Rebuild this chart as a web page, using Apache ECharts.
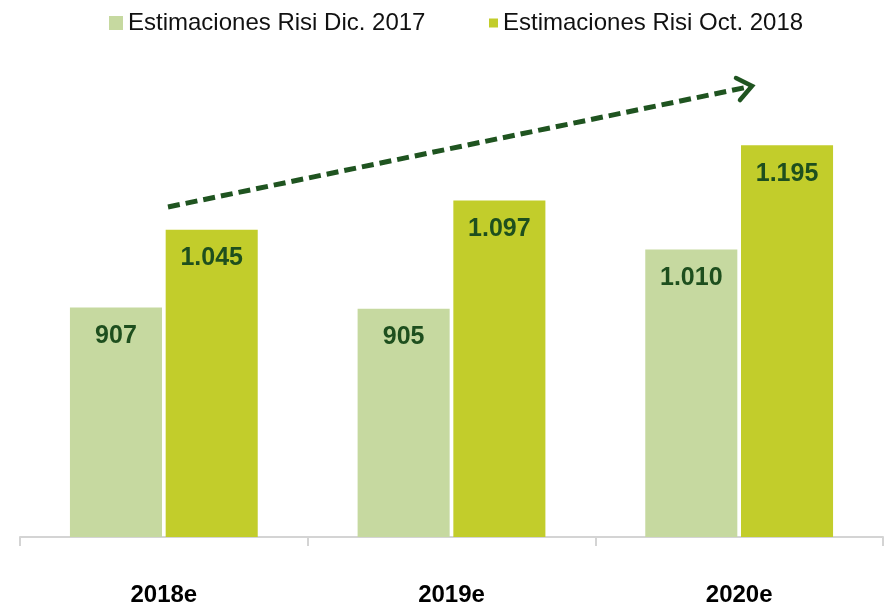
<!DOCTYPE html>
<html>
<head>
<meta charset="utf-8">
<script src="https://cdn.jsdelivr.net/npm/echarts@6/dist/echarts.min.js"></script>
<style>
  html, body { margin: 0; padding: 0; background: #fff; }
  #chart { width: 885px; height: 610px; }
</style>
</head>
<body>
<div id="chart"></div>
<script>
// datos del gráfico
const categorias = ['2018e', '2019e', '2020e'];
const nombreDic2017 = 'Estimaciones Risi Dic. 2017';
const nombreOct2018 = 'Estimaciones Risi Oct. 2018';
const valoresDic2017 = [907, 905, 1010];
const valoresOct2018 = [1045, 1097, 1195];

const FONT = '"Liberation Sans Narrow", "Arial Narrow", "Liberation Sans", Arial, sans-serif';

// formato español: 1.045
function fmt (v) {
    return String(v).replace(/\B(?=(\d{3})+(?!\d))/g, '.');
}

const etiqueta = {
    show: true,
    position: 'insideTop',
    distance: 16,
    color: '#1e4f1e',
    fontFamily: FONT,
    fontWeight: 'bold',
    fontSize: 25,
    formatter: (p) => fmt(p.value)
};

const chart = echarts.init(document.getElementById('chart'));

chart.setOption({
    animation: false,
    legend: [
        {
            data: [nombreDic2017],
            left: 104,
            top: 6,
            itemWidth: 14,
            itemHeight: 14,
            itemGap: 10,
            icon: 'rect',
            textStyle: { fontFamily: FONT, fontSize: 24, color: '#111' }
        },
        {
            data: [nombreOct2018],
            left: 484,
            top: 6,
            itemWidth: 9,
            itemHeight: 9,
            itemGap: 10,
            icon: 'rect',
            textStyle: { fontFamily: FONT, fontSize: 24, color: '#111' }
        }
    ],
    grid: { left: 20, right: 2, top: 86, bottom: 73 },
    xAxis: {
        type: 'category',
        data: categorias,
        axisLine: { lineStyle: { color: '#d4d4d4', width: 2 } },
        axisTick: { show: true, length: 9, lineStyle: { color: '#d4d4d4', width: 2 } },
        axisLabel: {
            margin: 46,
            color: '#000',
            fontFamily: FONT,
            fontWeight: 'bold',
            fontSize: 24
        }
    },
    yAxis: {
        type: 'value',
        min: 500,
        max: 1300,
        show: false,
        splitLine: { show: false }
    },
    series: [
        {
            name: nombreDic2017,
            type: 'bar',
            data: valoresDic2017,
            barWidth: '32%',
            barGap: '4%',
            itemStyle: { color: '#c6d9a0' },
            label: etiqueta
        },
        {
            name: nombreOct2018,
            type: 'bar',
            data: valoresOct2018,
            barWidth: '32%',
            itemStyle: { color: '#c2cd2b' },
            label: etiqueta
        }
    ],
    // flecha de tendencia (anotación)
    graphic: [
        {
            type: 'line',
            shape: { x1: 168, y1: 207, x2: 748, y2: 87 },
            style: { stroke: '#1f5420', lineWidth: 5, lineDash: [12, 6] }
        },
        {
            type: 'polyline',
            shape: { points: [[736, 78], [752, 86], [740, 100]] },
            style: { stroke: '#1f5420', lineWidth: 4.5, fill: null, lineCap: 'round', lineJoin: 'miter' }
        }
    ]
});
</script>
</body>
</html>
